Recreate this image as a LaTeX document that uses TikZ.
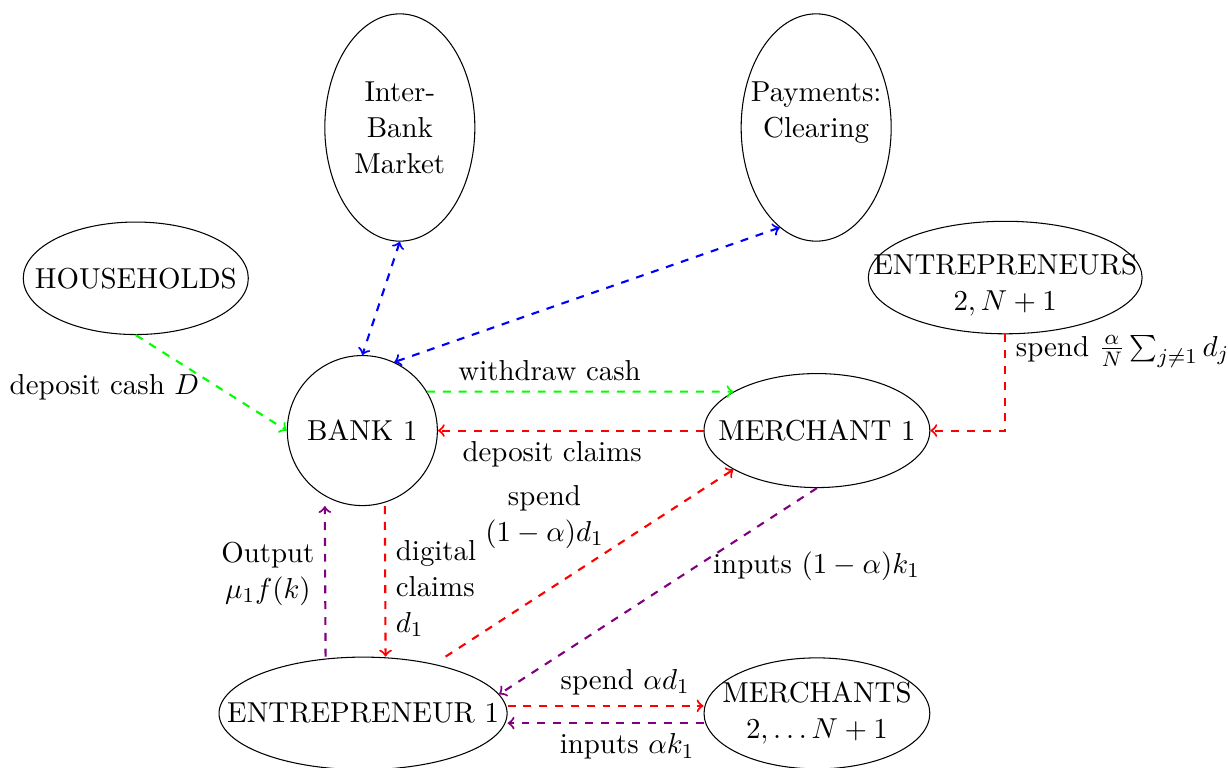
\documentclass[11pt,tikz,border=0pt]{standalone}
\usetikzlibrary{shapes.geometric}
\newcommand{\flatline}[1]{\makebox[0pt]{#1}}
\begin{document}
\begin{tikzpicture}
[ellipsedecorate/.style={shape=ellipse,draw,inner sep=0pt,align=center},%
  circledecorate/.style={shape=circle,draw,inner sep=0pt,minimum size=2cm},%
  arrowdecorate/.style={->,dashed,thick,draw=#1},%
  twowaydecorate/.style={<->,dashed,thick,draw=#1}]
\useasboundingbox (0,0) rectangle (16.37,10.23);
% nodes or vertices
\node (hh) at (1.81,6.52) [ellipsedecorate,minimum width=3cm,minimum height=1.5cm] {\flatline{HOUSEHOLDS}};
\node (ib) at (5.33,8.53) [ellipsedecorate,minimum width=2cm,minimum height=3.03cm] {\flatline{Inter-}\\\flatline{Bank}\\\flatline{Market}};
\node (pay) at (10.88,8.53) [ellipsedecorate,minimum width=2cm,minimum height=3.03cm] {\flatline{Payments:}\\\flatline{Clearing}\\\mbox{}};
\node (ents) at (13.4,6.53) [ellipsedecorate,minimum width=3.65cm,minimum height=1.5cm] {\mbox{}\\\flatline{ENTREPRENEURS}\\\flatline{$2,N+1$}};
\node (bank) at (4.83,4.49) [circledecorate] {BANK 1};
\node (m1) at (10.89,4.49) [ellipsedecorate,minimum width=3.01cm,minimum height=1.52cm] {\flatline{MERCHANT 1}};
\node (e1) at (4.84,0.72) [ellipsedecorate,minimum width=3.84cm,minimum height=1.5cm] {\flatline{ENTREPRENEUR 1}};
\node (ms) at (10.89,0.72) [ellipsedecorate,minimum width=3.01cm,minimum height=1.48cm] {\flatline{MERCHANTS}\\\flatline{$2,\ldots N+1$}};
% edges or lines
\path
(hh.south) edge[arrowdecorate=green] node[left,pos=0.55,xshift=-0.12cm]{deposit cash $D$} (bank.west)
(ib.south) edge[twowaydecorate=blue] (bank.north)
(pay.250) edge[twowaydecorate=blue] (bank.65)
(bank.31) edge[arrowdecorate=green] node[above,pos=0.4]{withdraw cash} (m1.155)
(m1.west) edge[arrowdecorate=red] node[below,pos=0.57]{deposit claims} (bank.east)
([xshift=0.3cm]bank.south) edge[arrowdecorate=red] node[right,pos=0.55,align=left]{digital\\claims\\$d_1$} ([xshift=0.3cm]e1.north)
([xshift=-0.5cm]e1.north) edge[arrowdecorate=violet] node[left,pos=0.55,align=center]{Output\\$\mu_1 f(k)$} ([xshift=-0.5cm]bank.south)
([xshift=1.1cm]e1.north) edge[arrowdecorate=red] node[above left,pos=0.56,xshift=0.1cm,yshift=-0.1cm,align=center]{spend\\$(1-\alpha)d_1$} (m1.205)
(m1.south) edge[arrowdecorate=violet] node[right,pos=0.36,yshift=-0.05cm]{inputs $(1-\alpha)k_1$} (e1.8)
([yshift=0.1cm]e1.east) edge[arrowdecorate=red] node[above,pos=0.6]{spend $\alpha d_1$} ([yshift=0.1cm]ms.west)
([yshift=-0.13cm]ms.west) edge[arrowdecorate=violet] node[below,pos=0.39]{inputs $\alpha k_1$} ([yshift=-0.13cm]e1.east);
\draw[arrowdecorate=red] (ents.south) |- node[right,pos=0.09]{spend $\frac{\alpha}{N}\sum_{j\neq 1} d_j$} (m1.east);
\end{tikzpicture}
\end{document}
